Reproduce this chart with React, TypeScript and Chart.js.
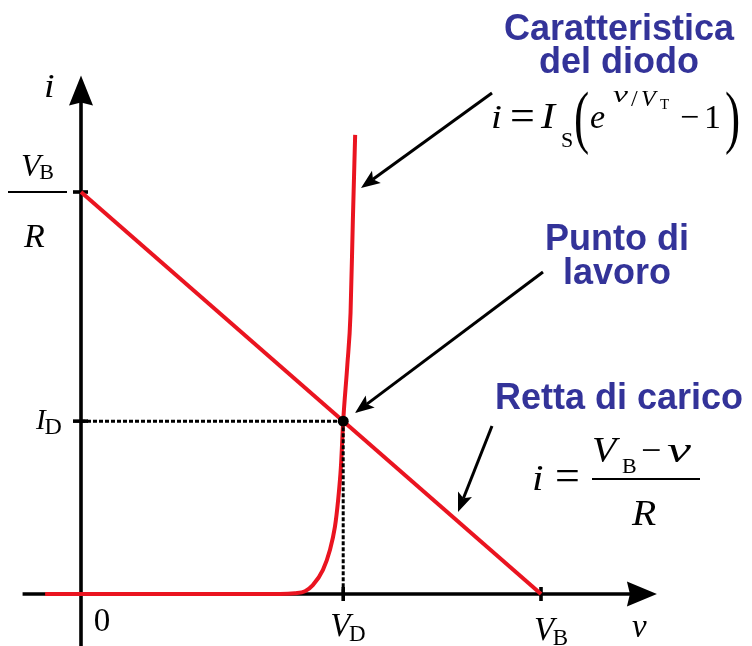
import React, { useEffect, useRef } from "react";
import { Chart, registerables } from "chart.js";

Chart.register(...registerables);

// Circuit quantities (arbitrary units: V_B = 10, R = 1)
const V_B = 10;
const R_LOAD = 1;
const V_D = 5.7;
const I_D = 4.3;

// Load line i = (V_B - v) / R
const loadV = [0, V_B];
const loadI = [V_B / R_LOAD, 0];

// Diode characteristic i = Is (e^(v/VT) - 1), sampled points
const diodeV = [-0.78, 4.33, 4.65, 4.87, 5.04, 5.26, 5.41, 5.52, 5.59, 5.65, 5.7, 5.79, 5.86, 5.91, 5.96];
const diodeI = [0, 0, 0.02, 0.07, 0.22, 0.6, 1.09, 1.67, 2.34, 3.16, 4.3, 5.7, 7.0, 9.3, 11.42];

// Operating point and its projections onto the axes
const opV = [V_D];
const opI = [I_D];
const projHV = [0, V_D];
const projHI = [I_D, I_D];
const projVV = [V_D, V_D];
const projVI = [I_D, 0];

// Axis tick positions
const xTickValues = [V_D, V_B];
const yTickValues = [I_D, V_B / R_LOAD];

const SERIF = "'Liberation Serif', 'Times New Roman', serif";
const SANS = "'Liberation Sans', Arial, sans-serif";
const RED = "#EA1420";
const BLUE = "#333399";

const pts = (xs: number[], ys: number[]) => xs.map((x, k) => ({ x, y: ys[k] }));

type Run = {
  t: string;
  x: number;
  y: number;
  size: number;
  italic?: boolean;
  bold?: boolean;
  sans?: boolean;
  sx?: number;
  align?: CanvasTextAlign;
};

function drawRuns(ctx: CanvasRenderingContext2D, runs: Run[], color: string) {
  for (const r of runs) {
    ctx.save();
    ctx.font = `${r.italic ? "italic " : ""}${r.bold ? "bold " : ""}${r.size}px ${r.sans ? SANS : SERIF}`;
    ctx.fillStyle = color;
    ctx.textAlign = r.align ?? "left";
    ctx.textBaseline = "alphabetic";
    ctx.translate(r.x, r.y);
    ctx.scale(r.sx ?? 1, 1);
    ctx.fillText(r.t, 0, 0);
    ctx.restore();
  }
}

function arrow(ctx: CanvasRenderingContext2D, x1: number, y1: number, x2: number, y2: number) {
  const ang = Math.atan2(y2 - y1, x2 - x1);
  const len = 19;
  const half = 7.5;
  const bx = x2 - len * Math.cos(ang);
  const by = y2 - len * Math.sin(ang);
  const nx = x2 - len * 0.78 * Math.cos(ang);
  const ny = y2 - len * 0.78 * Math.sin(ang);
  ctx.save();
  ctx.strokeStyle = "#000";
  ctx.fillStyle = "#000";
  ctx.lineWidth = 3;
  ctx.beginPath();
  ctx.moveTo(x1, y1);
  ctx.lineTo(nx, ny);
  ctx.stroke();
  ctx.beginPath();
  ctx.moveTo(x2, y2);
  ctx.lineTo(bx - half * Math.sin(ang), by + half * Math.cos(ang));
  ctx.lineTo(nx, ny);
  ctx.lineTo(bx + half * Math.sin(ang), by - half * Math.cos(ang));
  ctx.closePath();
  ctx.fill();
  ctx.restore();
}

// Italic main symbol followed by an upright subscript
function subLabel(
  ctx: CanvasRenderingContext2D,
  main: string,
  sub: string,
  x: number,
  y: number,
  size: number,
  subSize: number,
  drop: number,
  color = "#000"
) {
  ctx.font = `italic ${size}px ${SERIF}`;
  const w = ctx.measureText(main).width;
  drawRuns(
    ctx,
    [
      { t: main, x, y, size, italic: true },
      { t: sub, x: x + w - size * 0.04, y: y + drop, size: subSize },
    ],
    color
  );
}

const diagramPlugin = {
  id: "diagram",
  beforeDatasetsDraw(chart: any) {
    const ctx: CanvasRenderingContext2D = chart.ctx;
    const xs = chart.scales.x;
    const ys = chart.scales.y;
    const x0 = xs.getPixelForValue(0);
    const y0 = ys.getPixelForValue(0);
    const xLeft = xs.getPixelForValue(-1.27);
    const xTip = xs.getPixelForValue(12.52);
    const yTip = ys.getPixelForValue(12.9);
    const yBottom = chart.height;

    ctx.save();
    ctx.strokeStyle = "#000";
    ctx.fillStyle = "#000";
    ctx.lineWidth = 3.6;
    // horizontal axis
    ctx.beginPath();
    ctx.moveTo(xLeft, y0);
    ctx.lineTo(xTip - 26, y0);
    ctx.stroke();
    ctx.beginPath();
    ctx.moveTo(xTip, y0);
    ctx.lineTo(xTip - 30, y0 - 12.5);
    ctx.lineTo(xTip - 27, y0);
    ctx.lineTo(xTip - 30, y0 + 12.5);
    ctx.closePath();
    ctx.fill();
    // vertical axis
    ctx.beginPath();
    ctx.moveTo(x0, yBottom);
    ctx.lineTo(x0, yTip + 26);
    ctx.stroke();
    ctx.beginPath();
    ctx.moveTo(x0, yTip);
    ctx.lineTo(x0 - 12, yTip + 30);
    ctx.lineTo(x0, yTip + 27);
    ctx.lineTo(x0 + 12, yTip + 30);
    ctx.closePath();
    ctx.fill();
    // tick marks
    for (const v of xTickValues) {
      const px = xs.getPixelForValue(v);
      ctx.beginPath();
      ctx.moveTo(px, y0 - 7);
      ctx.lineTo(px, y0 + 7);
      ctx.stroke();
    }
    for (const v of yTickValues) {
      const py = ys.getPixelForValue(v);
      ctx.beginPath();
      ctx.moveTo(x0 - 8, py);
      ctx.lineTo(x0 + 7, py);
      ctx.stroke();
    }
    ctx.restore();
  },
  afterDraw(chart: any) {
    const ctx: CanvasRenderingContext2D = chart.ctx;
    const xs = chart.scales.x;
    const ys = chart.scales.y;
    const x0 = xs.getPixelForValue(0);
    const y0 = ys.getPixelForValue(0);

    // axis names and origin
    drawRuns(
      ctx,
      [
        { t: "i", x: x0 - 37, y: 97, size: 33, italic: true, sx: 1.15 },
        { t: "v", x: 632, y: y0 + 43, size: 33, italic: true },
        { t: "0", x: x0 + 21, y: y0 + 37, size: 33, align: "center" },
      ],
      "#000"
    );

    // x tick labels
    subLabel(ctx, "V", "D", xs.getPixelForValue(V_D) - 13, y0 + 42, 33, 23, 5);
    subLabel(ctx, "V", "B", xs.getPixelForValue(V_B) - 7, y0 + 46, 33, 23, 5);

    // y tick labels
    const pyID = ys.getPixelForValue(I_D);
    ctx.font = `italic 29px ${SERIF}`;
    const wI = ctx.measureText("I").width;
    ctx.font = `24px ${SERIF}`;
    const wD = ctx.measureText("D").width;
    subLabel(ctx, "I", "D", x0 - 18 - wI - wD, pyID + 8, 29, 24, 5);

    const pyVR = ys.getPixelForValue(V_B / R_LOAD);
    subLabel(ctx, "V", "B", 21, pyVR - 16, 32, 22, 3);
    drawRuns(ctx, [{ t: "R", x: 24, y: pyVR + 55, size: 34, italic: true }], "#000");
    ctx.save();
    ctx.strokeStyle = "#000";
    ctx.lineWidth = 2;
    ctx.beginPath();
    ctx.moveTo(8, pyVR);
    ctx.lineTo(67, pyVR);
    ctx.stroke();
    ctx.restore();

    // annotations
    drawRuns(
      ctx,
      [
        { t: "Caratteristica", x: 619, y: 40, size: 36, bold: true, sans: true, align: "center" },
        { t: "del diodo", x: 619, y: 73, size: 36, bold: true, sans: true, align: "center" },
        { t: "Punto di", x: 617, y: 250, size: 36, bold: true, sans: true, align: "center" },
        { t: "lavoro", x: 617, y: 284, size: 36, bold: true, sans: true, align: "center" },
        { t: "Retta di carico", x: 619, y: 409, size: 36, bold: true, sans: true, align: "center" },
      ],
      BLUE
    );

    // diode equation
    drawRuns(
      ctx,
      [
        { t: "i", x: 491, y: 128, size: 34, italic: true, sx: 1.15 },
        { t: "=", x: 510, y: 130, size: 44 },
        { t: "I", x: 541, y: 128, size: 35, italic: true, sx: 1.2 },
        { t: "S", x: 561, y: 147, size: 22 },
        { t: "(", x: 574, y: 140, size: 70, sx: 0.65 },
        { t: "e", x: 590, y: 128, size: 34, italic: true },
        { t: "v", x: 613, y: 102, size: 24, italic: true, sx: 1.4 },
        { t: "/", x: 631, y: 106, size: 24 },
        { t: "V", x: 641, y: 106, size: 24, italic: true },
        { t: "T", x: 660, y: 109, size: 15 },
        { t: "\u2212", x: 680, y: 128, size: 34 },
        { t: "1", x: 704, y: 128, size: 34 },
        { t: ")", x: 725, y: 140, size: 70, sx: 0.65 },
      ],
      "#000"
    );

    // load-line equation
    drawRuns(
      ctx,
      [
        { t: "i", x: 532, y: 490, size: 36, italic: true, sx: 1.15 },
        { t: "=", x: 555, y: 490, size: 44 },
        { t: "V", x: 592, y: 462, size: 36, italic: true, sx: 1.1 },
        { t: "B", x: 622, y: 473, size: 22 },
        { t: "\u2212", x: 641, y: 462, size: 36 },
        { t: "v", x: 667, y: 462, size: 36, italic: true, sx: 1.5 },
        { t: "R", x: 632, y: 525, size: 36, italic: true, sx: 1.1 },
      ],
      "#000"
    );
    ctx.save();
    ctx.strokeStyle = "#000";
    ctx.lineWidth = 2;
    ctx.beginPath();
    ctx.moveTo(592, 479);
    ctx.lineTo(700, 479);
    ctx.stroke();
    ctx.restore();

    // pointer arrows
    arrow(ctx, 492, 93, 361, 188);
    arrow(ctx, 543, 272, 355, 413);
    arrow(ctx, 492, 426, 458, 512);
  },
};

export default function App() {
  const canvasRef = useRef<HTMLCanvasElement | null>(null);

  useEffect(() => {
    const canvas = canvasRef.current;
    if (!canvas) return;
    const chart = new Chart(canvas, {
      type: "scatter",
      data: {
        datasets: [
          {
            data: pts(opV, opI),
            pointRadius: 5.5,
            pointBackgroundColor: "#000",
            pointBorderWidth: 0,
            showLine: false,
            order: 0,
          },
          {
            data: pts(projHV, projHI),
            showLine: true,
            borderColor: "#000",
            borderWidth: 3,
            borderDash: [4, 2],
            pointRadius: 0,
            order: 1,
          },
          {
            data: pts(projVV, projVI),
            showLine: true,
            borderColor: "#000",
            borderWidth: 3,
            borderDash: [4, 2],
            pointRadius: 0,
            order: 1,
          },
          {
            data: pts(loadV, loadI),
            showLine: true,
            borderColor: RED,
            borderWidth: 4,
            pointRadius: 0,
            order: 2,
          },
          {
            data: pts(diodeV, diodeI),
            showLine: true,
            borderColor: RED,
            borderWidth: 4,
            pointRadius: 0,
            cubicInterpolationMode: "monotone",
            order: 3,
          },
        ],
      },
      options: {
        responsive: false,
        animation: false,
        events: [],
        layout: { padding: { left: 12, right: 27, top: 71.4, bottom: 11.8 } },
        scales: {
          x: { type: "linear", min: -1.5, max: 14, display: false },
          y: { type: "linear", min: -1, max: 13, display: false },
        },
        plugins: { legend: { display: false }, tooltip: { enabled: false } },
      },
      plugins: [diagramPlugin],
    } as any);
    return () => chart.destroy();
  }, []);

  return (
    <div style={{ position: "absolute", left: 0, top: 0, width: 752, height: 646, background: "#fff" }}>
      <canvas ref={canvasRef} width={752} height={646} style={{ width: 752, height: 646 }} />
    </div>
  );
}
